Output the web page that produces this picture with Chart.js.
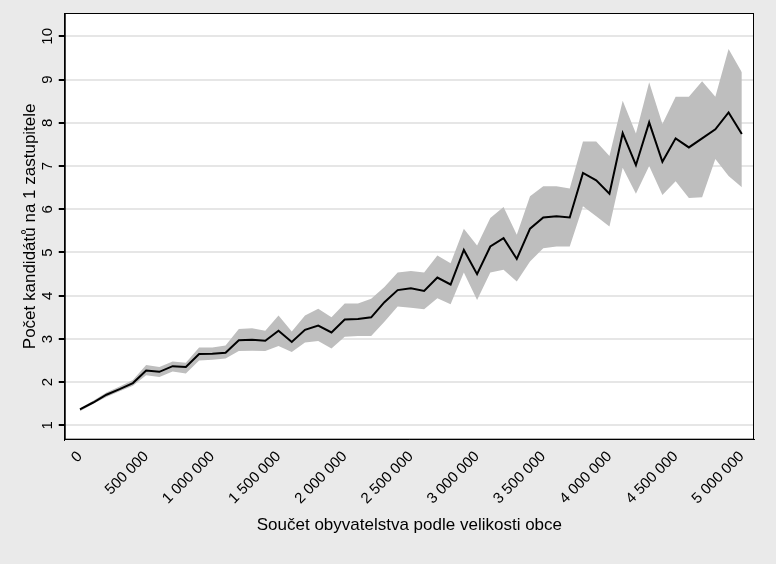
<!DOCTYPE html>
<html><head><meta charset="utf-8">
<script src="https://cdn.jsdelivr.net/npm/chart.js@4/dist/chart.umd.min.js"></script>
<style>html,body{margin:0;padding:0;background:#eaeaea}#w{width:776px;height:564px}</style>
</head><body><div id="w"><canvas id="c"></canvas></div>
<script>
const population=[0,100000,200000,300000,400000,500000,600000,700000,800000,900000,1000000,1100000,1200000,1300000,1400000,1500000,1600000,1700000,1800000,1900000,2000000,2100000,2200000,2300000,2400000,2500000,2600000,2700000,2800000,2900000,3000000,3100000,3200000,3300000,3400000,3500000,3600000,3700000,3800000,3900000,4000000,4100000,4200000,4300000,4400000,4500000,4600000,4700000,4800000,4900000,5000000];
const meanValues=[1.37,1.53,1.71,1.84,1.98,2.27,2.24,2.37,2.35,2.65,2.66,2.68,2.97,2.98,2.96,3.19,2.93,3.21,3.31,3.15,3.45,3.46,3.50,3.85,4.13,4.17,4.11,4.42,4.26,5.06,4.50,5.14,5.33,4.85,5.55,5.81,5.84,5.81,6.84,6.67,6.36,7.76,7.02,8.01,7.10,7.64,7.43,7.64,7.85,8.24,7.74];
const upperValues=[1.40,1.57,1.76,1.90,2.05,2.40,2.35,2.48,2.45,2.80,2.80,2.85,3.23,3.25,3.19,3.54,3.17,3.54,3.70,3.50,3.82,3.82,3.93,4.20,4.54,4.57,4.54,4.93,4.75,5.55,5.16,5.80,6.05,5.41,6.30,6.53,6.53,6.48,7.57,7.57,7.23,8.51,7.75,8.94,7.97,8.60,8.60,8.96,8.60,9.71,9.17];
const lowerValues=[1.33,1.50,1.66,1.79,1.92,2.16,2.12,2.25,2.20,2.50,2.52,2.55,2.72,2.73,2.72,2.84,2.70,2.92,2.95,2.78,3.05,3.07,3.07,3.40,3.75,3.72,3.69,3.94,3.80,4.54,3.90,4.54,4.60,4.33,4.79,5.10,5.14,5.14,6.07,5.84,5.60,6.96,6.36,7.00,6.33,6.65,6.26,6.28,7.16,6.77,6.51];
const xTicks=[0,500000,1000000,1500000,2000000,2500000,3000000,3500000,4000000,4500000,5000000];
const yTicks=[1,2,3,4,5,6,7,8,9,10];
const pts=v=>population.map((p,i)=>({x:p,y:v[i]}));
const fmt=v=>String(v).replace(/\B(?=(\d{3})+(?!\d))/g,' ');
const bg={id:'bg',beforeDraw(c){const a=c.chartArea,x=c.ctx;x.save();x.fillStyle='#fff';x.fillRect(a.left,a.top,a.right-a.left,a.bottom-a.top);x.restore();},
afterDraw(c){const a=c.chartArea,x=c.ctx;x.save();x.strokeStyle='#000';x.lineWidth=1;x.strokeRect(a.left+0.5,a.top+0.5,a.right-a.left-1,a.bottom-a.top-1);
const y=c.scales.y;x.fillStyle='#000';x.font='15px "Liberation Sans", Arial, sans-serif';x.textAlign='center';x.textBaseline='bottom';
yTicks.forEach(v=>{const py=y.getPixelForValue(v);x.save();x.translate(a.left-9,py);x.rotate(-Math.PI/2);x.fillText(String(v),0,0);x.restore();});
x.restore();}};
Chart.defaults.font.family='"Liberation Sans", Arial, sans-serif';
Chart.defaults.color='#000';
new Chart(document.getElementById('c'),{type:'line',
data:{datasets:[
{data:pts(upperValues),order:2,borderWidth:0,pointRadius:0,backgroundColor:'#bebebe',fill:'+1',tension:0},
{data:pts(lowerValues),order:3,borderWidth:0,pointRadius:0,backgroundColor:'#bebebe',fill:false,tension:0},
{data:pts(meanValues),order:0,borderColor:'#000',borderWidth:2,pointRadius:0,fill:false,tension:0}]},
options:{responsive:true,maintainAspectRatio:false,animation:false,
layout:{padding:{left:16,right:22,top:10,bottom:24}},
plugins:{legend:{display:false},tooltip:{enabled:false}},
scales:{
x:{type:'linear',min:-115000,max:5092000,afterBuildTicks(s){s.ticks=xTicks.map(v=>({value:v}));},
ticks:{minRotation:45,maxRotation:45,font:{size:15},callback:v=>fmt(v),padding:2},
grid:{display:false,drawTicks:true,tickLength:6,tickColor:'#000'},border:{color:'#000'},
title:{display:true,text:'Součet obyvatelstva podle velikosti obce',font:{size:17},padding:{top:6}}},
y:{type:'linear',min:0.67,max:10.54,afterBuildTicks(s){s.ticks=yTicks.map(v=>({value:v}));},
ticks:{font:{size:15},padding:4,color:'rgba(0,0,0,0)',callback:v=>'0'},
grid:{color:'#e6e6e6',lineWidth:2,tickColor:'#000',tickLength:6},border:{color:'#000'},
title:{display:true,text:'Počet kandidátů na 1 zastupitele',font:{size:17},padding:{bottom:2}}}}},
plugins:[bg]});
</script></body></html>
